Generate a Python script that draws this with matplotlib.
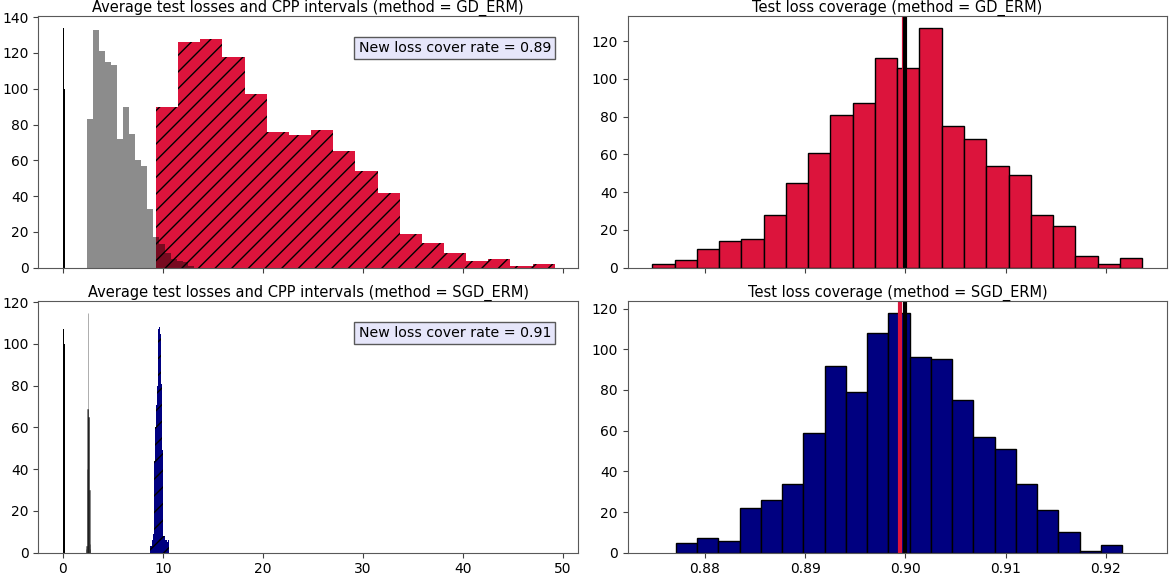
import numpy as np
import matplotlib
matplotlib.use("Agg")
import matplotlib.pyplot as plt

# ---- data ----
# left panels: histograms of losses (x = loss value)
train_gd_edges = np.linspace(0.0, 0.2, 5)
train_gd_counts = [117, 134, 130, 100]

test_gd_edges = 2.40 + 0.597 * np.arange(19)
test_gd_counts = [83, 133, 121, 115, 113, 72, 90, 75, 60, 57, 33, 17, 13, 8, 5, 4, 3, 1]

cpp_gd_edges = 9.3 + 2.215 * np.arange(19)
cpp_gd_counts = [90, 126, 128, 118, 97, 76, 74, 77, 65, 54, 42, 19, 14, 8, 4, 5, 1, 2]

train_sgd_edges = np.linspace(0.0, 0.2, 5)
train_sgd_counts = [97, 107, 104, 100]

test_sgd_edges = np.linspace(2.30, 2.74, 12)
test_sgd_counts = [2, 3, 40, 69, 69, 115, 65, 65, 30, 4, 2]

cpp_sgd_edges = 8.67 + 0.1 * np.arange(20)
cpp_sgd_counts = [3, 3, 6, 9, 44, 60, 71, 80, 107, 108, 105, 81, 49, 8, 8, 6, 6, 5, 6]

cover_rate_gd = 0.89
cover_rate_sgd = 0.91

# right panels: coverage histograms
cov_gd_edges = np.linspace(0.87474, 0.92362, 23)
cov_gd_counts = [2, 4, 10, 14, 15, 28, 45, 61, 81, 87, 111, 106, 127, 75, 68, 54,
                 49, 28, 22, 6, 2, 5]
cov_gd_mean = 0.89985

cov_sgd_edges = np.linspace(0.87711, 0.92163, 22)
cov_sgd_counts = [5, 7, 6, 22, 26, 34, 59, 92, 79, 108, 118, 96, 95, 75, 57, 51,
                  34, 21, 10, 1, 4]
cov_sgd_mean = 0.89950

target = 0.90

plt.rcParams['font.size'] = 10
plt.rcParams['axes.edgecolor'] = '0.35'
plt.rcParams['xtick.color'] = '0.25'
plt.rcParams['ytick.color'] = '0.25'
plt.rcParams['xtick.labelcolor'] = 'black'
plt.rcParams['ytick.labelcolor'] = 'black'

fig = plt.figure(figsize=(11.73, 5.77), dpi=100)
ax_tl = fig.add_axes([0.0328, 0.536, 0.460, 0.4364])
ax_bl = fig.add_axes([0.0328, 0.0421, 0.460, 0.4368], sharex=ax_tl)
ax_tr = fig.add_axes([0.5351, 0.536, 0.460, 0.4364])
ax_br = fig.add_axes([0.5351, 0.0421, 0.460, 0.4368], sharex=ax_tr)


def hist_from_counts(ax, edges, counts, **kw):
    edges = np.asarray(edges)
    ax.hist(edges[:-1], bins=edges, weights=counts, **kw)


def loss_panel(ax, train, test, cpp, color, rate, method, test_lw=0):
    hist_from_counts(ax, *cpp, color=color, hatch='//', edgecolor='black', linewidth=0)
    hist_from_counts(ax, *train, color='black')
    hist_from_counts(ax, *test, color='black', alpha=0.45, edgecolor='black',
                     linewidth=test_lw)
    ax.text(0.95, 0.90, 'New loss cover rate = %.2f' % rate, transform=ax.transAxes,
            ha='right', va='top', fontsize=10.2,
            bbox=dict(boxstyle='square,pad=0.3', facecolor='lavender', edgecolor='0.35'))
    ax.set_title('Average test losses and CPP intervals (method = %s)' % method,
                 fontsize=10.5, pad=3)


def coverage_panel(ax, cov, color, mean, method):
    hist_from_counts(ax, *cov, color=color, edgecolor='black', linewidth=1)
    ax.axvline(mean, color='crimson', linewidth=3)
    ax.axvline(target, color='black', linewidth=3)
    ax.set_title('Test loss coverage (method = %s)' % method, fontsize=10.5, pad=3)


loss_panel(ax_tl, (train_gd_edges, train_gd_counts), (test_gd_edges, test_gd_counts),
           (cpp_gd_edges, cpp_gd_counts), 'crimson', cover_rate_gd, 'GD_ERM')
loss_panel(ax_bl, (train_sgd_edges, train_sgd_counts), (test_sgd_edges, test_sgd_counts),
           (cpp_sgd_edges, cpp_sgd_counts), 'navy', cover_rate_sgd, 'SGD_ERM',
           test_lw=0.5)
coverage_panel(ax_tr, (cov_gd_edges, cov_gd_counts), 'crimson', cov_gd_mean, 'GD_ERM')
coverage_panel(ax_br, (cov_sgd_edges, cov_sgd_counts), 'navy', cov_sgd_mean, 'SGD_ERM')

ax_tl.set_xlim(-2.45, 51.5)
ax_tr.set_xlim(0.87229, 0.92612)
ax_tl.set_xticks([0, 10, 20, 30, 40, 50])
ax_tr.set_xticks([0.88, 0.89, 0.90, 0.91, 0.92])
ax_tr.xaxis.set_major_formatter(matplotlib.ticker.FormatStrFormatter('%.2f'))
ax_tl.tick_params(labelbottom=False)
ax_tr.tick_params(labelbottom=False)

fig.savefig('out.png', dpi=100)
